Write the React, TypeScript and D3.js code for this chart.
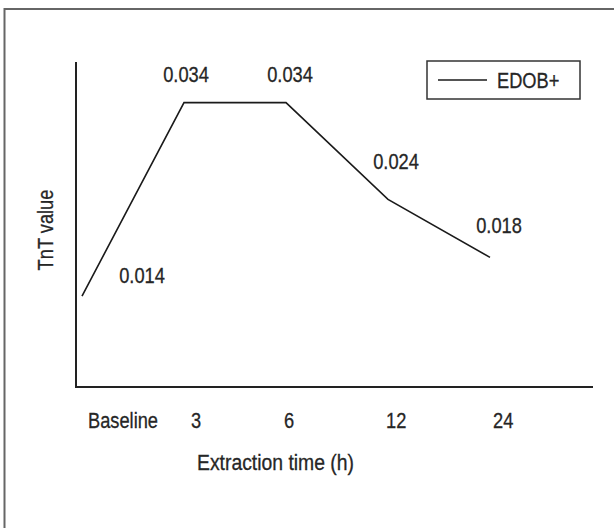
import React, { useEffect, useRef } from 'react';
import * as d3 from 'd3';

const categories = ['Baseline', '3', '6', '12', '24'];
const tntValues = [0.014, 0.034, 0.034, 0.024, 0.018];
const valueLabels = ['0.014', '0.034', '0.034', '0.024', '0.018'];
const seriesName = 'EDOB+';

// hand-tuned label nudges (dx, dy) relative to each point, as in the original figure
const labelOffsets: [number, number][] = [[60, -13], [2, -21], [4, -21], [8, -30], [9, -24]];
const tickOffsets = [6, 7, -2, -2, 3];

// no condensed font available: squeeze Liberation Sans horizontally
const FONT = '"Liberation Sans", Arial, sans-serif';
const FONT_SIZE = 22;
const SQUEEZE = 0.83;

const App: React.FC = () => {
  const svgRef = useRef<SVGSVGElement>(null);

  useEffect(() => {
    document.body.style.margin = '0';
    if (!svgRef.current) return;

    const width = 614;
    const height = 528;
    const svg = d3.select(svgRef.current);
    svg.selectAll('*').remove();

    svg.append('rect').attr('width', width).attr('height', height).attr('fill', '#fff');

    // frame (only top and left edges are visible in the crop)
    svg.append('rect')
      .attr('x', 4.5).attr('y', 9)
      .attr('width', width + 20).attr('height', height + 20)
      .attr('fill', 'none')
      .attr('stroke', '#666')
      .attr('stroke-width', 2);

    const x = d3.scalePoint<string>().domain(categories).range([82, 490]);
    const y = d3.scaleLinear().domain([0.0046, 0.0382]).range([387, 62]);

    const axisLeft = 76;
    const axisRight = 593;

    // axes
    svg.append('line')
      .attr('x1', axisLeft).attr('x2', axisLeft)
      .attr('y1', y(0.0382)).attr('y2', y(0.0046))
      .attr('stroke', '#222').attr('stroke-width', 2);
    svg.append('line')
      .attr('x1', axisLeft - 1).attr('x2', axisRight)
      .attr('y1', y(0.0046)).attr('y2', y(0.0046))
      .attr('stroke', '#222').attr('stroke-width', 2);

    // series line
    const line = d3.line<number>()
      .x((_, i) => x(categories[i])!)
      .y((d) => y(d));

    svg.append('path')
      .datum(tntValues)
      .attr('fill', 'none')
      .attr('stroke', '#1a1a1a')
      .attr('stroke-width', 1.6)
      .attr('d', line);

    const label = (px: number, py: number, str: string, anchor = 'middle', rotate = 0, sx = SQUEEZE) =>
      svg.append('text')
        .attr('transform', `translate(${px},${py})${rotate ? ` rotate(${rotate})` : ''} scale(${sx},1)`)
        .attr('text-anchor', anchor)
        .attr('font-family', FONT)
        .attr('font-size', FONT_SIZE)
        .attr('fill', '#262626')
        .attr('stroke', '#262626')
        .attr('stroke-width', 0.3)
        .text(str);

    // value labels
    tntValues.forEach((v, i) => {
      label(x(categories[i])! + labelOffsets[i][0], y(v) + labelOffsets[i][1], valueLabels[i]);
    });

    // x tick labels
    categories.forEach((c, i) => {
      label(x(c)! + tickOffsets[i], 428, c, 'start');
    });

    // axis titles
    label(275.5, 470, 'Extraction time (h)', 'middle', 0, 0.88);
    label(52.5, 230, 'TnT value', 'middle', -90);

    // legend
    svg.append('rect')
      .attr('x', 427).attr('y', 61)
      .attr('width', 153).attr('height', 38)
      .attr('fill', '#fff')
      .attr('stroke', '#333')
      .attr('stroke-width', 1.5);
    svg.append('line')
      .attr('x1', 438).attr('x2', 487)
      .attr('y1', 80).attr('y2', 80)
      .attr('stroke', '#1a1a1a').attr('stroke-width', 1.5);
    label(497, 87.5, seriesName, 'start');
  }, []);

  return <svg ref={svgRef} width={614} height={528} style={{ display: 'block' }} />;
};

export default App;
